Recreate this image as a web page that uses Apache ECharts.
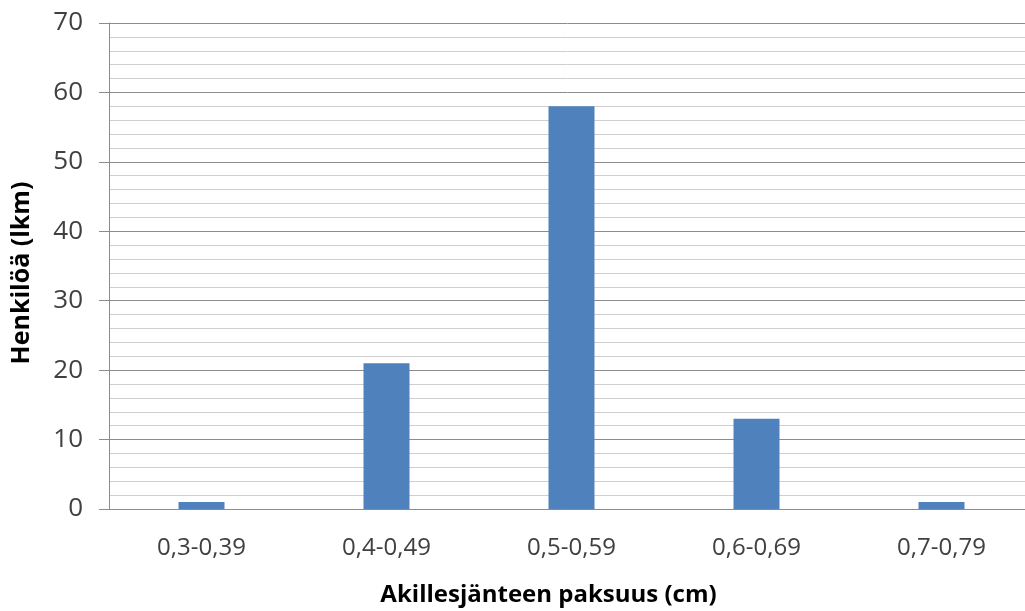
<!DOCTYPE html>
<html>
<head>
<meta charset="utf-8">
<script src="https://cdn.jsdelivr.net/npm/echarts@6/dist/echarts.min.js"></script>
<style>html,body{margin:0;padding:0;background:#fff;overflow:hidden}#c{width:1025px;height:611px}</style>
</head>
<body>
<div id="c"></div>
<script>
const categories = ['0,3-0,39', '0,4-0,49', '0,5-0,59', '0,6-0,69', '0,7-0,79'];
const counts = [1, 21, 58, 13, 1];
const xTitle = 'Akillesjänteen paksuus (cm)';
const yTitle = 'Henkilöä (lkm)';

const chart = echarts.init(document.getElementById('c'), null, {renderer: 'canvas'});
const FONT = 'Open Sans';
chart.setOption({
  animation: false,
  backgroundColor: '#fff',
  grid: {left: 109, top: 23, width: 925, height: 486, containLabel: false, outerBoundsMode: 'none'},
  xAxis: {
    type: 'category',
    data: categories,
    axisLine: {show: true, lineStyle: {color: '#8c8c8c', width: 1}},
    axisTick: {show: false},
    axisLabel: {color: '#404040', fontFamily: FONT, fontSize: 24, margin: 27},
    name: xTitle,
    nameLocation: 'middle',
    nameGap: 74,
    nameTextStyle: {color: '#000', fontFamily: FONT, fontSize: 24, fontWeight: 'bold', padding: [0, 46, 0, 0]},
    splitLine: {show: false}
  },
  yAxis: {
    type: 'value',
    min: 0, max: 70, interval: 10,
    axisLine: {show: true, lineStyle: {color: '#8c8c8c', width: 1}},
    axisTick: {show: true, length: 10, lineStyle: {color: '#8c8c8c'}},
    minorTick: {show: false, splitNumber: 5},
    axisLabel: {color: '#404040', fontFamily: FONT, fontSize: 26, margin: 26},
    splitLine: {show: true, lineStyle: {color: '#8c8c8c', width: 1}},
    minorSplitLine: {show: true, lineStyle: {color: '#cfcfcf', width: 1}},
    name: yTitle,
    nameLocation: 'middle',
    nameGap: 75,
    nameRotate: 90,
    nameTextStyle: {color: '#000', fontFamily: FONT, fontSize: 25, fontWeight: 'bold', padding: [0, 14, 0, 0]}
  },
  series: [{
    type: 'bar',
    data: counts,
    barWidth: 46,
    itemStyle: {color: '#4f81bd'}
  }]
});
</script>
</body>
</html>
